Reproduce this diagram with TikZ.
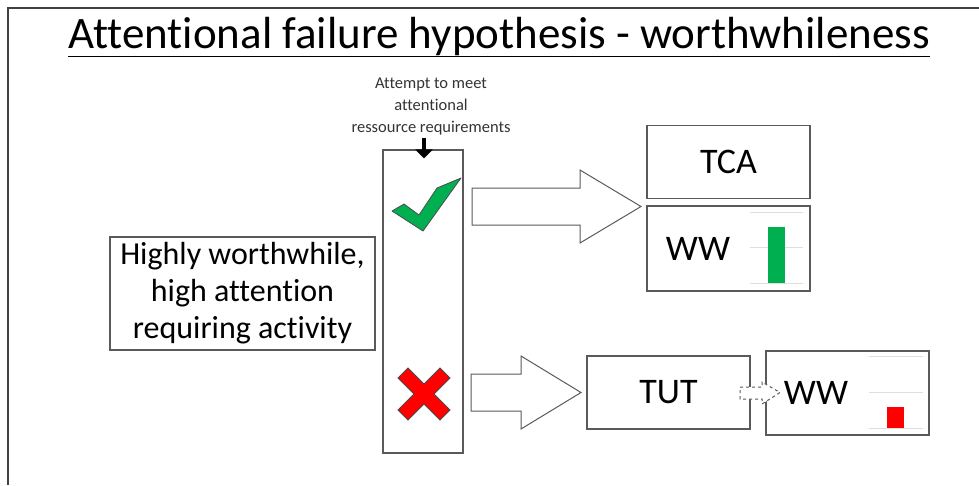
\documentclass[tikz,border=0pt]{standalone}
\usepackage{fontspec}
\setmainfont{Carlito}[Ligatures={NoCommon}]
\usetikzlibrary{positioning,arrows.meta}

\definecolor{boxgray}{RGB}{90,90,90}
\definecolor{okgreen}{RGB}{0,176,80}
\definecolor{badred}{RGB}{255,0,0}

\begin{document}
\begin{tikzpicture}[x=1pt, y=-1pt,
    box/.style={draw=boxgray, line width=1.1pt, fill=white, inner sep=0pt, font=\fontsize{36}{40}\selectfont},
    blockarrow/.style={draw=boxgray, line width=1pt, fill=white, line join=miter},
    gridline/.style={draw=black!13, line width=1pt}]
    \useasboundingbox (0,0) rectangle (979,485);

    % slide frame
    \draw[black!75, line width=2pt] (979,8) -- (8,8) -- (8,485);

    \node[font=\fontsize{45}{50}\selectfont, anchor=base] (title) at (499,48) {\underline{Attentional failure hypothesis - worthwhileness}};

    \node[box, minimum width=265, minimum height=113, align=center, font=\fontsize{32}{37}\selectfont] (activity) at (242.5,293.5) {Highly worthwhile,\\high attention\\requiring activity};
    \node[box, minimum width=80, minimum height=303] (attempt) at (423,301.5) {};
    \node[align=center, text=black!80, font=\fontsize{16.5}{22}\selectfont] (note) at (431,107) {Attempt to meet\\attentional\\ressource requirements};
    \coordinate (notefoot) at (424,138);
    \draw[line width=4.5pt, -{Triangle[length=9pt,width=17pt]}] (notefoot) -- ([xshift=1pt,yshift=-9pt]attempt.north);

    \node[box, minimum width=163, minimum height=73] (tca) at (728.5,162) {TCA};
    \node[box, minimum width=163, minimum height=85] (wwhigh) at (728.5,248.5) {};
    \node[box, minimum width=163, minimum height=73] (tut) at (668.5,392.5) {TUT};
    \node[box, minimum width=163, minimum height=84] (wwlow) at (847.5,393) {};

    % worthwhileness bars
    \foreach \y in {212,247,283} \draw[gridline] (750,\y) -- (803,\y);
    \fill[okgreen] (768,227) rectangle (785,283);
    \node[font=\fontsize{36}{40}\selectfont] (wwhightext) at (698,249) {WW};
    \foreach \y in {356,392,428} \draw[gridline] (869,\y) -- (923,\y);
    \fill[badred] (887,407) rectangle (904,428);

    % tick and cross
    \filldraw[fill=okgreen, draw=black!70, line width=0.8pt, line join=round]
        (392,211) -- (404,204) -- (419,215) -- (437,188) -- (461,178) -- (423,231) -- cycle;
    \filldraw[fill=badred, draw=black!70, line width=0.8pt, shift={(424,394)}]
        (-26,-16) -- (-16,-26) -- (0,-10) -- (16,-26) -- (26,-16) -- (10,0) -- (26,16)
        -- (16,26) -- (0,10) -- (-16,26) -- (-26,16) -- (-10,0) -- cycle;

    % block arrows
    \draw[blockarrow] (472,188) -- (580,188) -- (580,170) -- (641,206.5) -- (580,243) -- (580,225) -- (472,225) -- cycle;
    \draw[blockarrow] (471,374) -- (521,374) -- (521,356) -- (581,392.5) -- (521,429) -- (521,411) -- (471,411) -- cycle;
    \draw[blockarrow, dashed, line width=1pt] (740,387) -- (762,387) -- (762,382) -- (780,392.5) -- (762,404) -- (762,399) -- (740,399) -- cycle;

    \node[font=\fontsize{36}{40}\selectfont] (wwlowtext) at (816,393) {WW};
\end{tikzpicture}
\end{document}
